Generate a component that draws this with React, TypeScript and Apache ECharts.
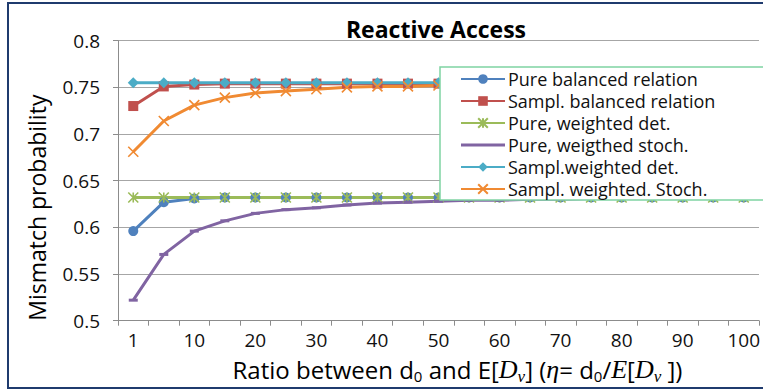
import React, { useEffect, useRef } from 'react';
import * as echarts from 'echarts';

const categories = ['1', '5', '10', '15', '20', '25', '30', '35', '40', '45', '50', '55', '60', '65', '70', '75', '80', '85', '90', '95', '100'];

const pureBalanced = [0.596, 0.627, 0.631, 0.632, 0.632, 0.632, 0.632, 0.632, 0.632, 0.632, 0.632, 0.632, 0.632, 0.632, 0.632, 0.632, 0.632, 0.632, 0.632, 0.632, 0.632];
const samplBalanced = [0.730, 0.751, 0.753, 0.754, 0.754, 0.754, 0.754, 0.754, 0.754, 0.754, 0.754, 0.755, 0.755, 0.755, 0.755, 0.755, 0.755, 0.755, 0.755, 0.755, 0.755];
const pureWeightedDet = [0.632, 0.632, 0.632, 0.632, 0.632, 0.632, 0.632, 0.632, 0.632, 0.632, 0.632, 0.632, 0.632, 0.632, 0.632, 0.632, 0.632, 0.632, 0.632, 0.632, 0.632];
const pureWeightedStoch = [0.522, 0.571, 0.596, 0.607, 0.615, 0.619, 0.621, 0.624, 0.626, 0.627, 0.628, 0.629, 0.629, 0.630, 0.630, 0.631, 0.631, 0.631, 0.631, 0.632, 0.632];
const samplWeightedDet = [0.755, 0.755, 0.755, 0.755, 0.755, 0.755, 0.755, 0.755, 0.755, 0.755, 0.755, 0.755, 0.755, 0.755, 0.755, 0.755, 0.755, 0.755, 0.755, 0.755, 0.755];
const samplWeightedStoch = [0.681, 0.714, 0.731, 0.739, 0.744, 0.746, 0.748, 0.750, 0.751, 0.751, 0.752, 0.752, 0.753, 0.753, 0.753, 0.754, 0.754, 0.754, 0.754, 0.754, 0.754];

const seriesNames = [
  'Pure balanced relation',
  'Sampl. balanced relation',
  'Pure, weighted det.',
  'Pure, weigthed stoch.',
  'Sampl.weighted det.',
  'Sampl. weighted. Stoch.',
];

const FONT = 'Open Sans';
const MATH = 'Liberation Serif';

export default function App() {
  const ref = useRef<HTMLDivElement>(null);

  useEffect(() => {
    if (!ref.current) return;
    const chart = echarts.init(ref.current, undefined, { renderer: 'svg' });

    const colors = ['#4F81BD', '#C0504D', '#9BBB59', '#8064A2', '#4BACC6', '#F08A32'];
    const symbols: any[] = [
      'circle',
      'rect',
      'path://M0,0L10,10M10,0L0,10M5,0L5,10',
      'rect',
      'diamond',
      'path://M0,0L10,10M10,0L0,10',
    ];
    const sizes: any[] = [10, 10, 10, [9, 3], 11, 10];
    const datas = [pureBalanced, samplBalanced, pureWeightedDet, pureWeightedStoch, samplWeightedDet, samplWeightedStoch];

    const series = datas.map((d, i) => ({
      name: seriesNames[i],
      type: 'line',
      data: d,
      symbol: symbols[i],
      symbolSize: sizes[i],
      showSymbol: true,
      lineStyle: { color: colors[i], width: 3 },
      itemStyle: {
        color: colors[i],
        borderColor: colors[i],
        borderWidth: i === 2 || i === 5 ? 1.6 : 0,
      },
      z: 2,
    }));

    const option: any = {
      animation: false,
      backgroundColor: '#ffffff',
      title: {
        text: 'Reactive Access',
        left: 431,
        textAlign: 'center',
        top: 12,
        textStyle: { fontFamily: FONT, fontWeight: 'bold', fontSize: 23, color: '#000' },
      },
      grid: { left: 118, right: 3, top: 40.7, bottom: 69.3, containLabel: false },
      legend: {
        orient: 'vertical',
        left: 460,
        top: 68,
        padding: 0,
        itemGap: 0,
        itemWidth: 44,
        itemHeight: 12,
        z: 5,
        data: seriesNames.map((n, i) =>
          i === 3 ? { name: n, icon: 'path://M0,0H44V3H0Z' } : { name: n }
        ),
        textStyle: { fontFamily: FONT, fontSize: 18, color: '#111', lineHeight: 22, padding: [0, 0, 0, -2] },
      },
      xAxis: {
        type: 'category',
        data: categories,
        boundaryGap: true,
        name: '{n|Ratio between d}{s|0}{n| and E[}{i|D}{si|ν}{n|] (}{i|η}{n|= d}{s|0}{n|/}{i|E}{n|[}{i|D}{si|ν}{n| ])}',
        nameLocation: 'middle',
        nameGap: 32,
        nameTextStyle: {
          padding: [0, 0, 0, 38],
          rich: {
            n: { fontFamily: FONT, fontSize: 24, color: '#000', lineHeight: 32 },
            s: { fontFamily: FONT, fontSize: 15, color: '#000', lineHeight: 17, padding: [13, 0, 0, 0] },
            i: { fontFamily: MATH, fontStyle: 'italic', fontSize: 26, color: '#000', lineHeight: 32 },
            si: { fontFamily: MATH, fontStyle: 'italic', fontSize: 17, color: '#000', lineHeight: 17, padding: [13, 0, 0, 0] },
          },
        },
        axisLine: { lineStyle: { color: '#8C8C8C', width: 1 } },
        axisTick: { show: true, interval: 0, length: 5, lineStyle: { color: '#8C8C8C' } },
        axisLabel: { interval: 1, margin: 10, fontFamily: FONT, fontSize: 19, color: '#111' },
        splitLine: { show: false },
      },
      yAxis: {
        type: 'value',
        min: 0.5,
        max: 0.8,
        interval: 0.05,
        name: 'Mismatch probability',
        nameLocation: 'middle',
        nameGap: 70,
        nameTextStyle: { fontFamily: FONT, fontSize: 23, color: '#000', padding: [0, 54, 0, 0] },
        axisLine: { show: true, lineStyle: { color: '#8C8C8C', width: 1 } },
        axisTick: { show: true, length: 5, lineStyle: { color: '#8C8C8C' } },
        axisLabel: { margin: 18, fontFamily: FONT, fontSize: 19, color: '#111' },
        splitLine: { show: true, lineStyle: { color: '#A6A6A6', width: 1 } },
      },
      graphic: [
        {
          type: 'rect',
          silent: true,
          z: 3,
          shape: { x: 440, y: 67, width: 400, height: 133 },
          style: { fill: '#ffffff', stroke: '#7FD3A2', lineWidth: 1.5 },
        },
        {
          type: 'rect',
          silent: true,
          z: 10,
          shape: { x: 8, y: 3, width: 800, height: 385 },
          style: { fill: 'none', stroke: '#1F3B6E', lineWidth: 2 },
        },
      ],
      series,
    };

    chart.setOption(option);
    return () => chart.dispose();
  }, []);

  return (
    <div
      ref={ref}
      style={{ position: 'fixed', left: 0, top: 0, width: 763, height: 390 }}
    />
  );
}
